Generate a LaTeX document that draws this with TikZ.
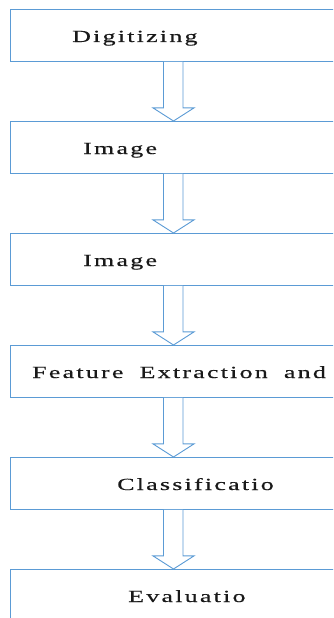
\documentclass[tikz,border=0pt]{standalone}
\usepackage{fontspec}
\setmainfont{Liberation Serif}[FakeStretch=1.53, LetterSpace=13, WordSpace=1.85, FakeBold=0.4]
\usetikzlibrary{calc}
\definecolor{boxblue}{RGB}{91,155,213}
\tikzset{
  stepbox/.style={draw=boxblue, line width=0.9pt, rectangle, minimum width=350pt, minimum height=52pt, anchor=north west, inner sep=0pt},
  steptext/.style={anchor=base west, inner sep=0pt, font=\fontsize{17}{19}\selectfont, text=black!90},
  arrowline/.style={draw=boxblue, line width=0.9pt, fill=white, line join=miter}
}
\begin{document}
\begin{tikzpicture}[x=1pt,y=-1pt]
\useasboundingbox (0,0) rectangle (333,618);
\clip (0,0) rectangle (333,618);
\node[stepbox] (b1) at (10,9) {};
\node[stepbox] (b2) at (10,121) {};
\node[stepbox] (b3) at (10,233) {};
\node[stepbox] (b4) at (10,345) {};
\node[stepbox] (b5) at (10,457) {};
\node[stepbox] (b6) at (10,569) {};
\node[steptext] (t1) at (72,42) {Digitizing};
\node[steptext] (t2) at (83,154) {Image};
\node[steptext] (t3) at (83,266) {Image};
\node[steptext] (t4) at (32,378) {Feature Extraction and};
\node[steptext] (t5) at (117,490) {Classificatio};
\node[steptext] (t6) at (128,602) {Evaluatio};
\foreach \a/\b in {b1/b2,b2/b3,b3/b4,b4/b5,b5/b6}{
  \draw[arrowline] ($(\a.south west)+(153.5,0)$) -- ($(\a.south west)+(153.5,46)$) -- ($(\a.south west)+(143,46)$) -- ($(\b.north west)+(163.5,0)$) -- ($(\a.south west)+(184,46)$) -- ($(\a.south west)+(173,46)$) -- ($(\a.south west)+(173,0)$);
}
\end{tikzpicture}
\end{document}
